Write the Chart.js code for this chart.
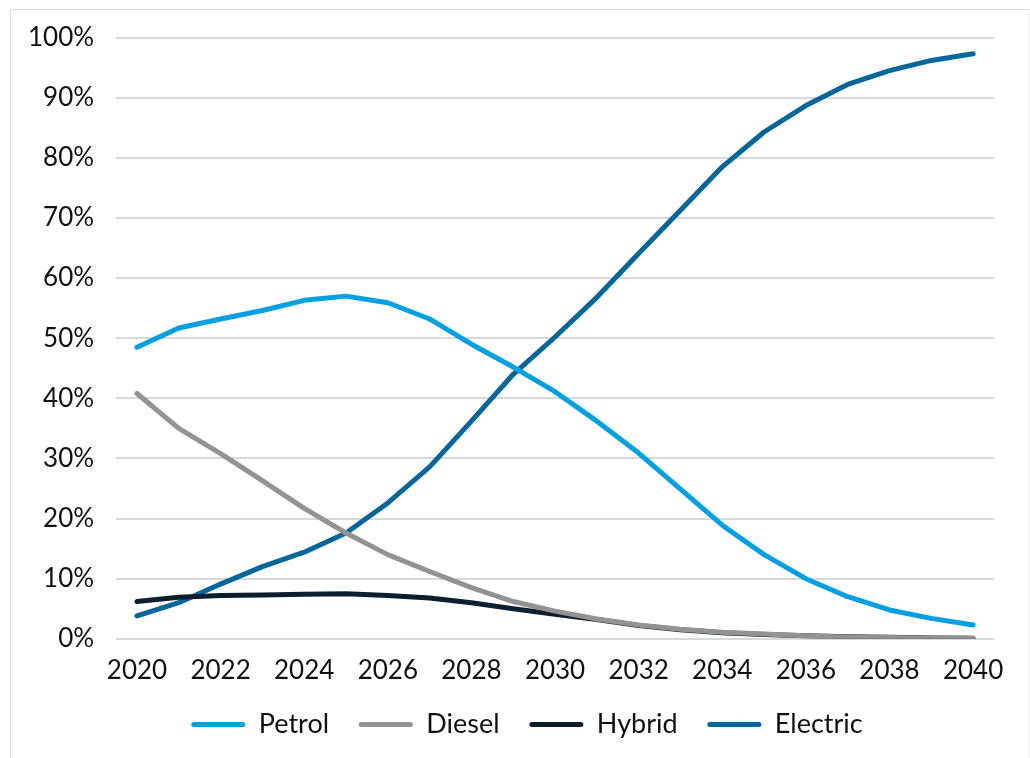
<!DOCTYPE html>
<html>
<head>
<meta charset="utf-8">
<script src="https://cdn.jsdelivr.net/npm/chart.js@4.4.0/dist/chart.umd.min.js"></script>
<style>
  html, body { margin: 0; padding: 0; background: #fff; }
  #frame {
    position: absolute; left: 10px; top: 9px; width: 1018px; height: 760px;
    border-top: 1px solid #dcdcdc; border-left: 1px solid #dcdcdc; border-right: 1px solid #ececec;
  }
  #wrap { position: absolute; left: 0; top: 0; width: 1030px; height: 758px; }
</style>
</head>
<body>
<div id="frame"></div>
<div id="wrap"><canvas id="myChart" width="1030" height="758"></canvas></div>
<script>
var years = ['2020', '2021', '2022', '2023', '2024', '2025', '2026', '2027', '2028', '2029', '2030',
  '2031', '2032', '2033', '2034', '2035', '2036', '2037', '2038', '2039', '2040'];
var petrol = [48.5, 51.7, 53.2, 54.6, 56.3, 57, 55.9, 53.2, 49, 45.2, 41.1, 36.2, 30.9, 24.9, 18.9, 14, 10, 7, 4.8, 3.4, 2.3];
var diesel = [40.8, 35, 30.8, 26.3, 21.7, 17.6, 14, 11.2, 8.5, 6.2, 4.6, 3.3, 2.3, 1.6, 1.1, 0.8, 0.5, 0.3, 0.2, 0.1, 0.1];
var hybrid = [6.2, 6.9, 7.2, 7.3, 7.4, 7.5, 7.2, 6.8, 6.0, 5.0, 4.1, 3.2, 2.2, 1.5, 1.0, 0.7, 0.5, 0.35, 0.25, 0.15, 0.1];
var electric = [3.8, 6.0, 9.1, 12, 14.4, 17.6, 22.6, 28.6, 36.2, 44, 50.2, 56.8, 64.1, 71.3, 78.5, 84.3, 88.7, 92.2, 94.5, 96.2, 97.3];
var seriesNames = ['Petrol', 'Diesel', 'Hybrid', 'Electric'];
var seriesColors = ['#00a0e3', '#939393', '#0d1f2d', '#00669c'];
var yTicks = [0, 10, 20, 30, 40, 50, 60, 70, 80, 90, 100];

var fontFamily = "Lato, 'Noto Sans', sans-serif";

var makeSet = function(i, values) {
  return {
    label: seriesNames[i],
    data: values,
    borderColor: seriesColors[i],
    backgroundColor: seriesColors[i],
    borderWidth: 5,
    borderCapStyle: 'round',
    borderJoinStyle: 'round',
    pointRadius: 0,
    tension: 0,
    fill: false
  };
};

// nudge the legend a bit to the right, like the original
var legendShift = {
  id: 'legendShift',
  afterLayout: function(chart) {
    if (chart.legend) {
      chart.legend.left += 27;
      chart.legend.right += 27;
    }
  }
};

var ctx = document.getElementById('myChart').getContext('2d');
var chart = new Chart(ctx, {
  type: 'line',
  data: {
    labels: years,
    datasets: [
      makeSet(0, petrol),
      makeSet(1, diesel),
      makeSet(2, hybrid),
      makeSet(3, electric)
    ]
  },
  plugins: [legendShift],
  options: {
    responsive: false,
    animation: false,
    layout: { padding: { top: 28, right: 36, left: 6, bottom: 10 } },
    plugins: {
      tooltip: { enabled: false },
      legend: {
        position: 'bottom',
        labels: {
          boxWidth: 54,
          boxHeight: 5,
          useBorderRadius: true,
          borderRadius: 2.5,
          padding: 9,
          color: '#111',
          font: { family: fontFamily, size: 27 },
          generateLabels: function(c) {
            var n = c.data.datasets.length;
            return c.data.datasets.map(function(ds, i) {
              return {
                // trailing spaces widen the gap between legend items
                text: i < n - 1 ? ds.label + '   ' : ds.label,
                fillStyle: ds.borderColor,
                strokeStyle: ds.borderColor,
                lineWidth: 0,
                borderRadius: 2.5,
                datasetIndex: i,
                fontColor: '#111'
              };
            });
          }
        }
      }
    },
    scales: {
      x: {
        offset: true,
        grid: { display: false, drawTicks: false },
        border: { display: false },
        ticks: {
          autoSkip: false,
          maxRotation: 0,
          padding: 16,
          color: '#111',
          font: { family: fontFamily, size: 26 },
          callback: function(v, i) { return i % 2 === 0 ? years[i] : ''; }
        }
      },
      y: {
        min: 0,
        max: 100,
        afterBuildTicks: function(axis) {
          axis.ticks = yTicks.map(function(v) { return { value: v }; });
        },
        grid: { color: '#d9d9d9', lineWidth: 2, drawTicks: false },
        border: { display: false },
        ticks: {
          padding: 22,
          color: '#111',
          font: { family: fontFamily, size: 26 },
          callback: function(v) { return v + '%'; }
        }
      }
    }
  }
});
</script>
</body>
</html>
